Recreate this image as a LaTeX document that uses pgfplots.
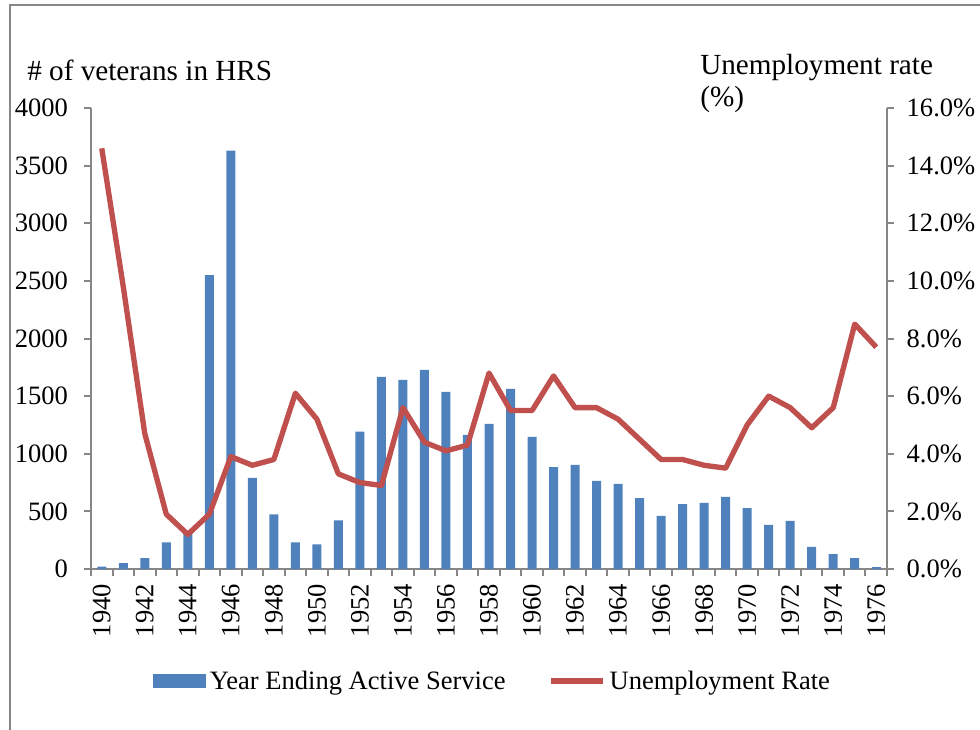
\documentclass[border=0pt]{standalone}
\usepackage{pgfplots}
\pgfplotsset{compat=1.18}
\usepackage{fontspec}
\setmainfont{Liberation Serif}
\definecolor{barblue}{HTML}{4F81BD}
\definecolor{linered}{HTML}{C0504D}
\definecolor{axgray}{HTML}{868686}
\begin{document}
\begin{tikzpicture}
\useasboundingbox (0,0) rectangle (735pt,546.75pt);
\draw[axgray, line width=1.2pt] (7.5pt,-2pt) -- (7.5pt,543pt) -- (740pt,543pt);
\pgfplotsset{
  every axis/.append style={
    scale only axis, width=597pt, height=345.75pt,
    at={(68.25pt,120pt)}, anchor=south west,
    xmin=1939.5, xmax=1976.5,
    /pgf/number format/assume math mode=true,
    /pgf/number format/1000 sep={},
    tick label style={font=\fontsize{19.9}{24}\selectfont, black},
    axis line style={axgray, line width=1.5pt},
    every tick/.style={axgray, line width=1.5pt},
    tick align=outside,
  }
}
\begin{axis}[
  axis x line*=bottom, axis y line*=left,
  ymin=0, ymax=4000,
  ytick={0,500,...,4000},
  major tick length=5.25pt,
  xtick={1940,1942,...,1976},
  major x tick style={draw=none},
  minor xtick={1939.5,1940.5,...,1976.5},
  minor tick length=5.25pt,
  minor x tick style={axgray, line width=1.5pt},
  xticklabel style={rotate=90, anchor=east},
  yticklabel style={anchor=east},
  xticklabel shift=2.5pt,
  yticklabel shift=8.5pt,
]
\addplot[ybar, bar width=6.75pt, fill=barblue, draw=none] coordinates {
(1940,20) (1941,50) (1942,95) (1943,232) (1944,330) (1945,2550) (1946,3630)
(1947,790) (1948,475) (1949,232) (1950,214) (1951,423) (1952,1192) (1953,1667)
(1954,1640) (1955,1727) (1956,1536) (1957,1163) (1958,1259) (1959,1562) (1960,1146)
(1961,885) (1962,903) (1963,764) (1964,738) (1965,616) (1966,460) (1967,564)
(1968,573) (1969,625) (1970,529) (1971,382) (1972,417) (1973,191) (1974,130)
(1975,95) (1976,17)};
\end{axis}
\begin{axis}[
  axis x line=none, axis y line*=right,
  ymin=0, ymax=16,
  ytick={0,2,...,16},
  major tick length=5.25pt,
  yticklabel={\pgfmathprintnumber[fixed,fixed zerofill,precision=1]{\tick}\%},
  yticklabel style={anchor=west},
  yticklabel shift=6pt,
  legend columns=2,
  legend style={at={(0.078,-0.243)}, anchor=west, draw=none, fill=none,
    font=\fontsize{19.9}{24}\selectfont, inner sep=0pt,
    /tikz/every even column/.append style={column sep=30pt}},
  legend cell align=left,
]
\addlegendimage{legend image code/.code={\fill[barblue] (0pt,-5pt) rectangle (39pt,5pt); \path (40pt,0pt);}}
\addlegendentry{Year Ending Active Service}
\addplot[linered, line width=4pt, line join=round, mark=none,
  legend image code/.code={\draw[linered, line width=4pt] (0pt,0pt) -- (39pt,0pt); \path (40pt,0pt);}] coordinates {
(1940,14.6) (1941,9.8) (1942,4.7) (1943,1.9) (1944,1.2) (1945,1.9) (1946,3.9)
(1947,3.6) (1948,3.8) (1949,6.1) (1950,5.2) (1951,3.3) (1952,3.0) (1953,2.9)
(1954,5.6) (1955,4.4) (1956,4.1) (1957,4.3) (1958,6.8) (1959,5.5) (1960,5.5)
(1961,6.7) (1962,5.6) (1963,5.6) (1964,5.2) (1965,4.5) (1966,3.8) (1967,3.8)
(1968,3.6) (1969,3.5) (1970,5.0) (1971,6.0) (1972,5.6) (1973,4.9) (1974,5.6)
(1975,8.5) (1976,7.7)};
\addlegendentry{Unemployment Rate}
\end{axis}
\node[anchor=base west, inner sep=0pt, font=\fontsize{21.9}{26}\selectfont] at (20.25pt,486.5pt) {\# of veterans in HRS};
\node[anchor=base west, inner sep=0pt, font=\fontsize{21.9}{26}\selectfont] at (525pt,490.5pt) {Unemployment rate};
\node[anchor=base west, inner sep=0pt, font=\fontsize{21.9}{26}\selectfont] at (525pt,466.5pt) {(\%)};
\end{tikzpicture}
\end{document}
